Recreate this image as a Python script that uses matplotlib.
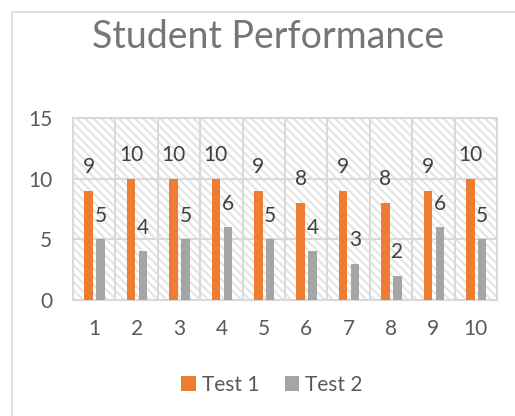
import numpy as np
import matplotlib
matplotlib.use("Agg")
import matplotlib.pyplot as plt
from matplotlib.patches import Rectangle

students = ["1", "2", "3", "4", "5", "6", "7", "8", "9", "10"]
test1 = [9, 10, 10, 10, 9, 8, 9, 8, 9, 10]
test2 = [5, 4, 5, 6, 5, 4, 3, 2, 6, 5]

plt.rcParams["font.family"] = ["Lato", "DejaVu Sans"]
plt.rcParams["hatch.linewidth"] = 1.5

fig = plt.figure(figsize=(5.15, 4.16), dpi=100)
ax = fig.add_axes([73 / 515, 1 - 300 / 416, (497 - 73) / 515, (300 - 118) / 416])

# chart border (cut off at right and bottom like the reference)
fig.patches.append(Rectangle((12 / 515, -0.1), 1.2, 1 - 12 / 416 + 0.1,
                             transform=fig.transFigure, fill=False,
                             edgecolor="#D9D9D9", lw=1.2))

# hatched plot area
ax.add_patch(Rectangle((0, 0), 1, 1, transform=ax.transAxes, facecolor="white",
                       edgecolor="#E4E4E4", hatch="\\\\\\\\", lw=0, zorder=0))

x = np.arange(1, len(students) + 1)
w = 0.2
b1 = ax.bar(x - 0.13, test1, w, color="#ED7D31", label="Test 1", zorder=3)
b2 = ax.bar(x + 0.15, test2, w, color="#A5A5A5", label="Test 2", zorder=3)

for bars, vals in [(b1, test1), (b2, test2)]:
    for r, v in zip(bars, vals):
        ax.annotate(str(v), (r.get_x() + r.get_width() / 2, v), xytext=(0, 17),
                    textcoords="offset points", ha="center", va="center",
                    fontsize=15, color="#404040", zorder=4)

ax.set_xlim(0.5, 10.5)
ax.set_ylim(0, 15)
ax.set_yticks([0, 5, 10, 15])
ax.set_xticks(x)
ax.set_xticklabels(students)
for yv in [5, 10]:
    ax.axhline(yv, color="#D9D9D9", lw=1.5, zorder=1)
for xv in np.arange(1.5, 10.5, 1):
    ax.axvline(xv, color="#D9D9D9", lw=1.5, zorder=1)
for s in ax.spines.values():
    s.set_color("#D9D9D9")
    s.set_linewidth(1.5)
ax.tick_params(length=0, labelsize=15, labelcolor="#595959")
ax.tick_params(axis="y", pad=15)
ax.tick_params(axis="x", pad=14)

fig.text(268 / 515, 1 - 48 / 416, "Student Performance", ha="center", va="baseline",
         fontsize=27, color="#767676")

fig.legend(handles=[b1, b2], loc="center", bbox_to_anchor=(272 / 515, 1 - 385 / 416),
           ncol=2, frameon=False, fontsize=15, labelcolor="#595959",
           handlelength=0.7, handleheight=0.7, handletextpad=0.3, columnspacing=1.2)

plt.savefig("out.png", dpi=100)
